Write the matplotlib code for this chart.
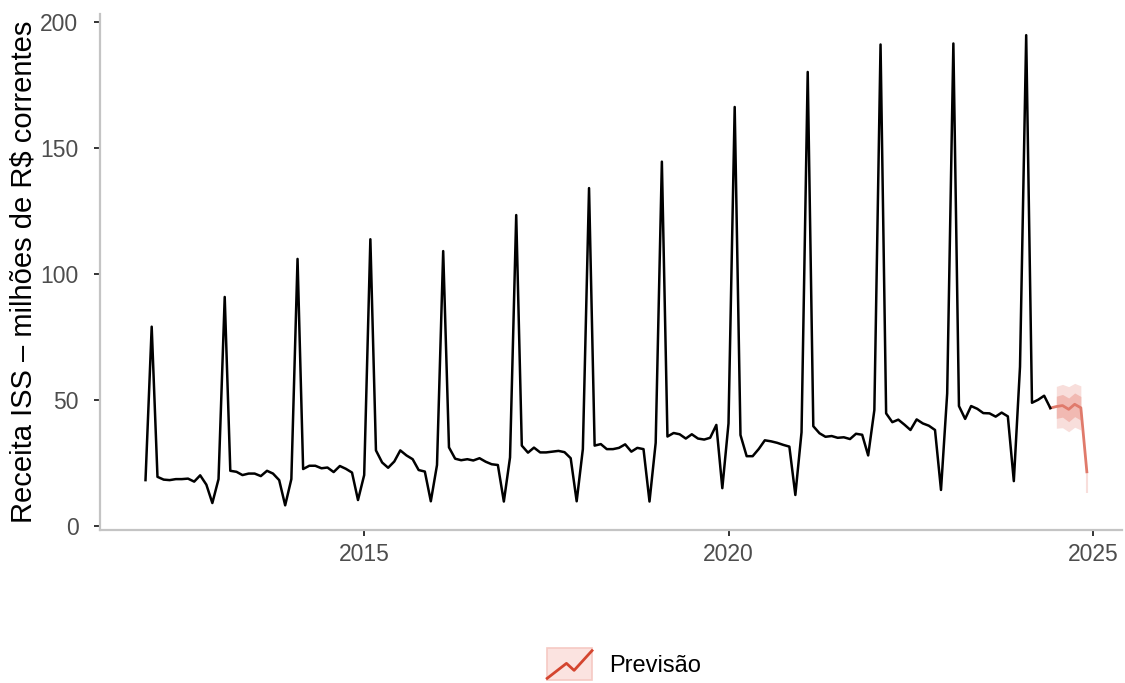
import numpy as np
import pandas as pd
import matplotlib
matplotlib.use("Agg")
import matplotlib.pyplot as plt
import matplotlib.dates as mdates
from matplotlib.legend_handler import HandlerBase
from matplotlib.patches import Rectangle
from matplotlib.lines import Line2D

plt.rcParams["font.family"] = ["Liberation Sans", "DejaVu Sans"]

# ── Data: ISS monthly revenue (R$ million), Jan/2012 – Jun/2024 ──────────────
receita = [
    18.2, 79.1, 19.5, 18.4, 18.2, 18.6, 18.6, 18.8, 17.6, 20.1, 16.4, 9.1,    # 2012
    18.6, 90.9, 21.9, 21.5, 20.2, 20.8, 20.8, 19.8, 21.9, 20.8, 18.2, 8.2,    # 2013
    18.6, 106.0, 22.6, 23.9, 23.9, 22.9, 23.2, 21.4, 23.8, 22.7, 21.2, 10.3,  # 2014
    20.2, 113.8, 30.0, 25.2, 23.1, 25.6, 30.0, 28.0, 26.5, 22.2, 21.6, 9.8,   # 2015
    24.2, 109.1, 31.2, 26.7, 26.1, 26.5, 26.0, 26.9, 25.5, 24.5, 24.2, 9.7,   # 2016
    27.2, 123.4, 31.9, 29.1, 31.1, 29.2, 29.2, 29.5, 29.8, 29.3, 26.9, 9.8,   # 2017
    30.5, 134.1, 31.9, 32.5, 30.5, 30.5, 31.0, 32.4, 29.5, 31.0, 30.5, 9.7,   # 2018
    33.0, 144.6, 35.5, 36.9, 36.4, 34.7, 36.4, 34.7, 34.3, 35.0, 40.1, 15.0,  # 2019
    40.7, 166.3, 36.1, 27.7, 27.7, 30.6, 34.0, 33.6, 33.0, 32.2, 31.5, 12.3,  # 2020
    37.2, 180.2, 39.6, 36.8, 35.4, 35.7, 35.0, 35.2, 34.5, 36.6, 36.2, 28.0,  # 2021
    46.0, 191.1, 44.7, 41.2, 42.2, 40.2, 38.1, 42.3, 40.7, 39.8, 38.1, 14.3,  # 2022
    52.6, 191.5, 47.6, 42.5, 47.6, 46.5, 44.8, 44.7, 43.4, 45.0, 43.5, 17.8,  # 2023
    63.2, 194.8, 48.9, 50.1, 51.7, 46.8,                                      # 2024
]

# Forecast Jul/2024 – Dec/2024 with 80% and 95% intervals
previsao = [47.4, 47.8, 46.3, 48.3, 46.9, 21.5]
lo80 = [42.7, 43.2, 41.4, 43.4, 42.0, 17.0]
hi80 = [51.5, 52.2, 50.8, 52.8, 51.4, 26.0]
lo95 = [38.8, 39.0, 37.4, 39.2, 38.1, 13.0]
hi95 = [55.4, 56.2, 55.3, 56.6, 55.6, 30.0]

datas = pd.date_range("2012-01-01", periods=len(receita), freq="MS")
datas_prev = pd.date_range("2024-07-01", periods=len(previsao), freq="MS")

LINE_COLOR = "#e07a6b"
KEY_LINE = "#d4452f"
BAND80 = "#f1b9b2"
BAND95 = "#f8dedb"

# ── Chart ────────────────────────────────────────────────────────────────────
fig = plt.figure(figsize=(11.25, 6.83), dpi=100)
ax = fig.add_axes([0.0889, 0.224, 0.9084, 0.7555])

# intervals (Jul–Nov as ribbons, Dec as a thin sliver)
ax.fill_between(datas_prev[:-1], lo95[:-1], hi95[:-1], color=BAND95, lw=0, zorder=1)
ax.fill_between(datas_prev[:-1], lo80[:-1], hi80[:-1], color=BAND80, lw=0, zorder=2)
ax.vlines(datas_prev[-1], lo95[-1], previsao[-1], color=BAND95, lw=1.5, zorder=1)

ax.plot(datas, receita, color="black", lw=1.8, zorder=4)
ax.plot([datas[-1]] + list(datas_prev), [receita[-1]] + previsao,
        color=LINE_COLOR, lw=2.0, zorder=3)

ax.set_xlim(pd.Timestamp("2011-05-18"), pd.Timestamp("2025-05-26"))
ax.set_ylim(-1.6, 203.2)
ax.set_yticks([0, 50, 100, 150, 200])
ax.xaxis.set_major_locator(mdates.YearLocator(5))
ax.xaxis.set_major_formatter(mdates.DateFormatter("%Y"))

for side in ["top", "right"]:
    ax.spines[side].set_visible(False)
for side in ["left", "bottom"]:
    ax.spines[side].set_color("#c4c4c4")
    ax.spines[side].set_linewidth(1.6)

ax.tick_params(axis="both", colors="#333333", labelcolor="#4d4d4d",
               labelsize=16.5, length=4.5, width=1.4)
ax.tick_params(axis="y", pad=11)
ax.tick_params(axis="x", pad=5)

ax.set_ylabel("Receita ISS – milhões de R$ correntes", fontsize=21,
              color="black", labelpad=2)


# legend key: pink box with a zig-zag line
class ForecastKey(HandlerBase):
    def create_artists(self, legend, orig_handle, xdescent, ydescent,
                       width, height, fontsize, trans):
        box = Rectangle((-xdescent, -ydescent), width, height,
                        facecolor="#fbe3e0", edgecolor="#f6c9c4", lw=1.2,
                        transform=trans)
        xs = np.array([0.0, 0.43, 0.6, 1.0]) * width - xdescent
        ys = np.array([0.05, 0.52, 0.3, 0.92]) * height - ydescent
        zig = Line2D(xs, ys, color=KEY_LINE, lw=2.0, transform=trans)
        return [box, zig]


key = Rectangle((0, 0), 1, 1)
fig.legend([key], ["Previsão"], handler_map={Rectangle: ForecastKey()},
           loc="center", bbox_to_anchor=(0.5547, 1 - 664 / 683),
           frameon=False, fontsize=17, handlelength=1.9, handleheight=1.7,
           handletextpad=0.72, borderpad=0)

fig.savefig("out.png", dpi=100, facecolor="white")
